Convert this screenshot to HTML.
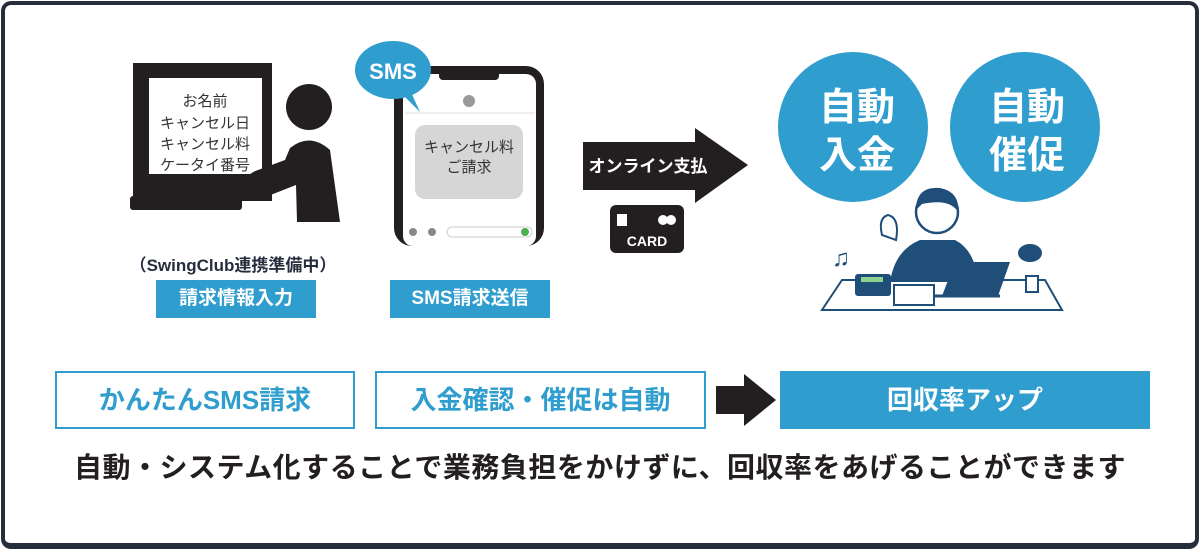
<!DOCTYPE html>
<html><head><meta charset="utf-8"><style>
*{margin:0;padding:0;box-sizing:border-box}
body{width:1200px;height:550px;background:#fff;font-family:"Liberation Sans","Noto Sans CJK JP",sans-serif;position:relative;overflow:hidden}
.frame{position:absolute;left:1px;top:1px;width:1198px;height:548px;border:4px solid #262e3e;border-bottom-width:6px;border-radius:10px}
.a{position:absolute}
.lbl{position:absolute;background:#2f9dcd;color:#fff;font-weight:bold;font-size:19px;text-align:center;line-height:38px}
.ob{position:absolute;border:2px solid #2f9dcd;color:#2f9dcd;font-weight:bold;font-size:26px;text-align:center;line-height:54px;top:371px;height:58px}
</style></head><body>
<div class="frame"></div>
<svg class="a" style="left:0;top:0" width="1200" height="550">
<rect x="133" y="63" width="139" height="138" fill="#231f20"/>
<rect x="149" y="78" width="113" height="96" fill="#fff"/>
<rect x="130" y="196" width="112" height="14" rx="3" fill="#231f20"/>
<circle cx="309" cy="107" r="23" fill="#231f20"/>
<path d="M290 148 Q310 132 330 150 L340 222 L297 222 L296 185 L268 196 Q250 198 246 186 Q245 174 258 170 L285 160 Z" fill="#231f20"/>
<g font-size="15" text-anchor="middle" fill="#333">
<text x="205" y="106">お名前</text>
<text x="205" y="128">キャンセル日</text>
<text x="205" y="149">キャンセル料</text>
<text x="205" y="170">ケータイ番号</text></g>
<rect x="394" y="66" width="150" height="180" rx="18" fill="#231f20"/>
<rect x="403" y="74" width="133" height="172" rx="10" fill="#fff"/>
<rect x="439" y="70" width="60" height="10" rx="4" fill="#231f20"/>
<line x1="405" y1="113" x2="535" y2="113" stroke="#ddd"/>
<circle cx="469" cy="101" r="6" fill="#999"/>
<rect x="415" y="125" width="108" height="74" rx="10" fill="#d6d6d6"/>
<text x="469" y="152" font-size="15" text-anchor="middle" fill="#333">キャンセル料</text>
<text x="469" y="172" font-size="15" text-anchor="middle" fill="#333">ご請求</text>
<rect x="447" y="227" width="85" height="10" rx="5" fill="none" stroke="#ccc"/>
<circle cx="525" cy="232" r="4" fill="#4caf50"/>
<circle cx="413" cy="232" r="4" fill="#888"/><circle cx="432" cy="232" r="4" fill="#888"/>
<ellipse cx="393" cy="70" rx="38" ry="29" fill="#2f9dcd"/>
<path d="M400 92 L420 112 L410 90 Z" fill="#2f9dcd"/>
<text x="393" y="79" font-size="22" font-weight="bold" text-anchor="middle" fill="#fff">SMS</text>
<path d="M583 142 L695 142 L695 128 L748 165 L695 203 L695 190 L583 190 Z" fill="#231f20"/>
<text x="648" y="172" font-size="17" font-weight="bold" text-anchor="middle" fill="#fff">オンライン支払</text>
<rect x="610" y="205" width="74" height="48" rx="6" fill="#231f20"/>
<text x="647" y="246" font-size="14" font-weight="bold" text-anchor="middle" fill="#fff">CARD</text>
<circle cx="663" cy="220" r="5" fill="#fff"/><circle cx="671" cy="220" r="5" fill="#fff"/>
<rect x="617" y="214" width="10" height="12" fill="#fff"/>
<circle cx="853" cy="127" r="75" fill="#2f9dcd"/>
<circle cx="1025" cy="127" r="75" fill="#2f9dcd"/>
<g font-size="38" font-weight="bold" text-anchor="middle" fill="#fff">
<text x="857" y="120">自動</text><text x="857" y="168">入金</text>
<text x="1027" y="120">自動</text><text x="1027" y="168">催促</text></g>
<!-- illustration -->
<path d="M822 310 L1062 310 L1045 280 L842 280 Z" fill="#fff" stroke="#1f4e79" stroke-width="2"/>
<path d="M890 282 Q895 250 920 240 L955 240 Q975 250 978 282 Z" fill="#1f4e79"/>
<circle cx="937" cy="212" r="21" fill="#fff" stroke="#1f4e79" stroke-width="2.5"/>
<path d="M916 210 Q916 186 940 188 Q960 192 958 212 Q950 198 922 204 Z" fill="#1f4e79"/>
<path d="M882 235 Q878 218 888 215 Q900 218 896 240 Z" fill="#fff" stroke="#1f4e79" stroke-width="2"/>
<path d="M942 296 L955 262 L1010 262 L998 296 Z" fill="#1f4e79"/>
<path d="M930 296 L1000 296" stroke="#1f4e79" stroke-width="3"/>
<rect x="855" y="274" width="36" height="22" rx="3" fill="#1f4e79"/>
<rect x="861" y="277" width="22" height="5" fill="#8fd18f"/>
<rect x="894" y="285" width="40" height="20" fill="#fff" stroke="#1f4e79" stroke-width="2"/>
<text x="832" y="266" font-size="24" fill="#1f4e79">♫</text>
<ellipse cx="1030" cy="253" rx="12" ry="9" fill="#1f4e79"/>
<rect x="1026" y="276" width="12" height="16" fill="#fff" stroke="#1f4e79" stroke-width="2"/>
</svg>
<div class="a" style="left:100px;top:251px;width:266px;text-align:center;font-size:17px;font-weight:bold;color:#262e3e">（SwingClub連携準備中）</div>
<div class="lbl" style="left:156px;top:280px;width:160px">請求情報入力</div>
<div class="lbl" style="left:390px;top:280px;width:160px">SMS請求送信</div>
<div class="ob" style="left:55px;width:300px">かんたんSMS請求</div>
<div class="ob" style="left:375px;width:331px">入金確認・催促は自動</div>
<svg class="a" style="left:714px;top:374px" width="64" height="54"><path d="M2 12 L30 12 L30 0 L62 26 L30 52 L30 40 L2 40 Z" fill="#231f20"/></svg>
<div class="a" style="left:780px;top:371px;width:370px;height:58px;background:#2f9dcd;color:#fff;font-weight:bold;font-size:26px;text-align:center;line-height:58px">回収率アップ</div>
<div class="a" style="left:0;top:446px;width:1200px;text-align:center;font-size:28px;font-weight:bold;color:#231f20;letter-spacing:0.5px;white-space:nowrap">自動・システム化することで業務負担をかけずに、回収率をあげることができます</div>
</body></html>
